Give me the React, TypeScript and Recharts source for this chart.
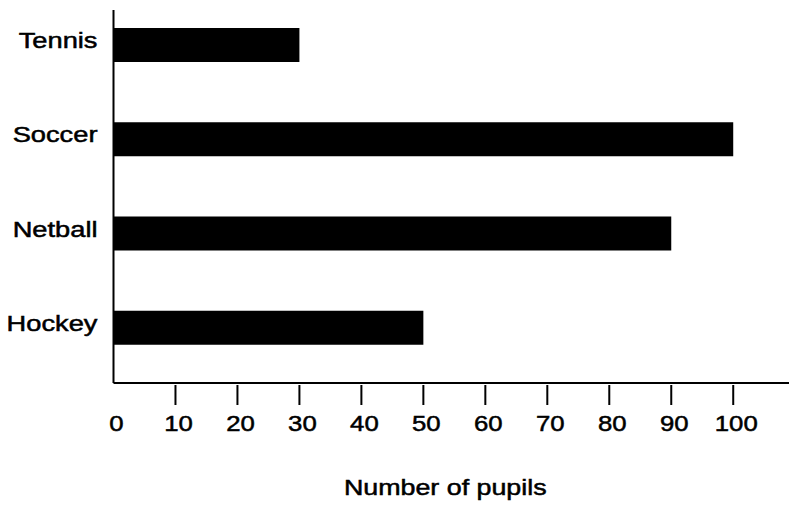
import React from "react";
import { BarChart, Bar, XAxis, YAxis } from "recharts";

const categories = ["Tennis", "Soccer", "Netball", "Hockey"];
const pupils = [30, 100, 90, 50];
const xTicks = [0, 10, 20, 30, 40, 50, 60, 70, 80, 90, 100];
const xTitle = "Number of pupils";

const data = categories.map((name, i) => ({ name, pupils: pupils[i] }));

const FONT = "'Liberation Sans', Arial, sans-serif";

const XTick = (props: any) => {
  const { x, y, payload } = props;
  const v = payload.value;
  return (
    <g>
      {v !== 0 && (
        <line x1={x} x2={x} y1={y + 2} y2={y + 22} stroke="#000" strokeWidth={2} />
      )}
      <text
        transform={`translate(${x + 3},${y + 48}) scale(1.17,1)`}
        textAnchor="middle"
        fontFamily={FONT}
        fontSize={22}
        fill="#000"
        stroke="#000"
        strokeWidth={0.5}
      >
        {v}
      </text>
    </g>
  );
};

const YTick = (props: any) => {
  const { x, y, payload } = props;
  return (
    <text
      transform={`translate(${x - 16},${y + 3}) scale(1.24,1)`}
      textAnchor="end"
      fontFamily={FONT}
      fontSize={22}
      fill="#000"
      stroke="#000"
      strokeWidth={0.5}
    >
      {payload.value}
    </text>
  );
};

const XTitle = (props: any) => {
  const vb = props.viewBox;
  const cx = vb.x + vb.width / 2 - 6;
  return (
    <text
      transform={`translate(${cx},${vb.y + 112}) scale(1.22,1)`}
      textAnchor="middle"
      fontFamily={FONT}
      fontSize={22}
      fill="#000"
      stroke="#000"
      strokeWidth={0.5}
    >
      {xTitle}
    </text>
  );
};

export default function App() {
  return (
    <div style={{ position: "absolute", left: 0, top: 0, background: "#fff" }}>
      <BarChart
        width={789}
        height={506}
        data={data}
        layout="vertical"
        margin={{ top: 10, right: 0, left: 13.5, bottom: 0 }}
      >
        <XAxis
          type="number"
          domain={[0, 109]}
          ticks={xTicks}
          height={123}
          tickSize={0}
          tickMargin={0}
          tickLine={false}
          axisLine={{ stroke: "#000", strokeWidth: 2 }}
          tick={<XTick />}
          interval={0}
          label={<XTitle />}
        />
        <YAxis
          type="category"
          dataKey="name"
          width={100}
          tickSize={0}
          tickMargin={0}
          tickLine={false}
          padding={{ top: -12, bottom: 8 }}
          axisLine={{ stroke: "#000", strokeWidth: 2 }}
          tick={<YTick />}
          interval={0}
        />
        <Bar dataKey="pupils" fill="#000" barSize={34} isAnimationActive={false} />
      </BarChart>
    </div>
  );
}
